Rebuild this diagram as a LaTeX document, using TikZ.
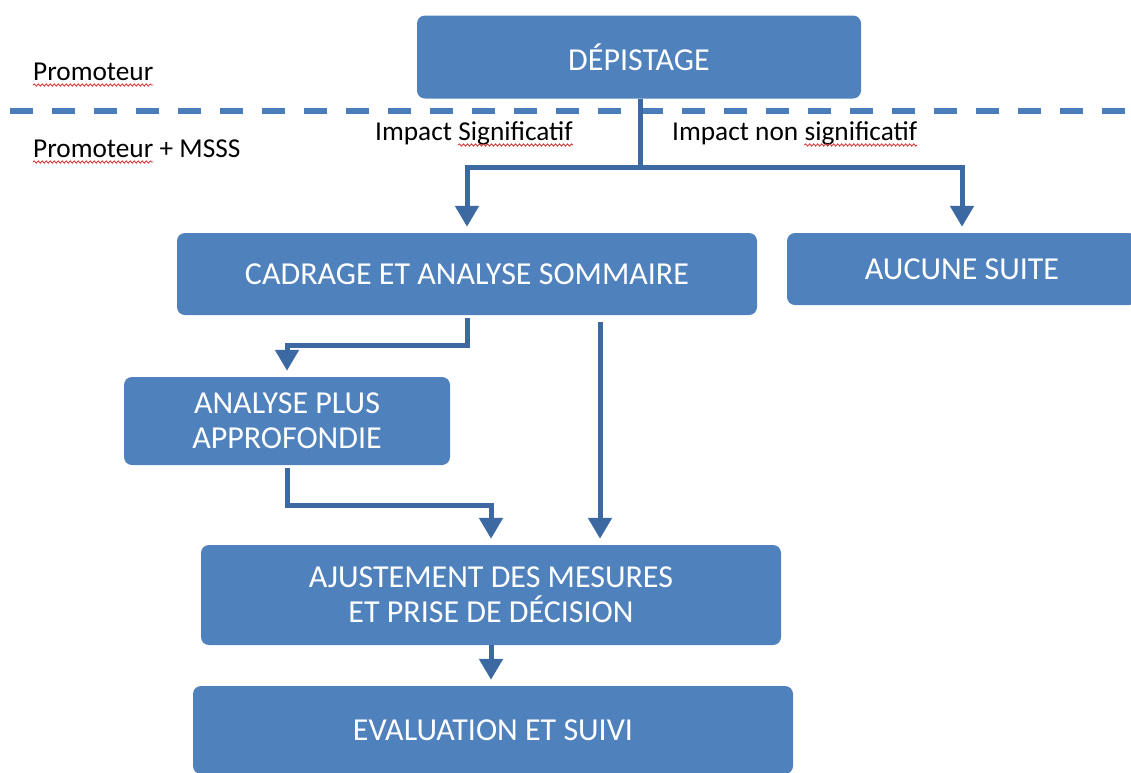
\documentclass[tikz,border=0pt]{standalone}
\usepackage{fontspec}
\setmainfont{Carlito}
\usetikzlibrary{arrows.meta,decorations.pathmorphing,calc}
\definecolor{boxblue}{HTML}{4F81BD}
\definecolor{linkblue}{HTML}{3D69A3}
\definecolor{dashblue}{HTML}{4A7EBB}
\definecolor{spellred}{HTML}{D83B3B}
\newcommand\bxfont{\fontsize{32}{35}\selectfont}
\newcommand\lbfont{\fontsize{27.3}{30}\selectfont}
\begin{document}
\begin{tikzpicture}[x=1pt,y=-1pt,
  box/.style={rectangle, rounded corners=8pt, fill=boxblue, text=white, align=center, font=\bxfont, inner sep=0pt},
  lbl/.style={anchor=base west, inner sep=0pt, font=\lbfont, text=black},
  arr/.style={draw=linkblue, line width=5pt, -{Triangle[width=23pt,length=21pt]}, shorten >=6pt},
  link/.style={draw=linkblue, line width=5pt},
  dashsep/.style={draw=dashblue, line width=6pt, dash pattern=on 23pt off 19pt, dash phase=32pt},
  wavy/.style={draw=spellred, line width=0.9pt, decorate, decoration={snake, amplitude=1.1pt, segment length=4pt}}
]
\useasboundingbox (0,0) rectangle (1131,772);
\fill[white] (0,0) rectangle (1131,772);

% separator
\coordinate (dl) at (0,111);
\coordinate (dr) at (1131,111);
\draw[dashsep] (dl) -- (dr);

% boxes
\node[box, minimum width=444pt, minimum height=83pt] (dep) at (639,57) {DÉPISTAGE};
\node[box, minimum width=580pt, minimum height=82pt] (cad) at (467,274) {CADRAGE ET ANALYSE SOMMAIRE};
\node[box, minimum width=350pt, minimum height=72pt] (auc) at (962,269) {AUCUNE SUITE};
\node[box, minimum width=326pt, minimum height=88pt] (ana) at (287,421) {ANALYSE PLUS\\APPROFONDIE};
\node[box, minimum width=580pt, minimum height=100pt] (adj) at (491,595) {AJUSTEMENT DES MESURES\\ET PRISE DE DÉCISION};
\node[box, minimum width=600pt, minimum height=88pt] (evl) at (493,730) {EVALUATION ET SUIVI};

% labels
\node[lbl] (p1) at (33,80) {Promoteur};
\node[lbl] (p2) at (33,157) {Promoteur};
\node[lbl] (p2b) at ([xshift=6pt]p2.base east) {+ MSSS};
\node[lbl] (i1) at (375,140) {Impact};
\node[lbl] (i1b) at ([xshift=6pt]i1.base east) {Significatif};
\node[lbl] (i2) at (672,140) {Impact non};
\node[lbl] (i2b) at ([xshift=6pt]i2.base east) {significatif};

% spell-check underlines
\draw[wavy] ([yshift=-5pt]p1.base west) -- ([yshift=-5pt]p1.base east);
\draw[wavy] ([yshift=-5pt]p2.base west) -- ([yshift=-5pt]p2.base east);
\draw[wavy] ([yshift=-5pt]i1b.base west) -- ([yshift=-5pt]i1b.base east);
\draw[wavy] ([yshift=-5pt]i2b.base west) -- ([yshift=-5pt]i2b.base east);

% connectors
\coordinate (split) at (640,167);
\coordinate (c600) at (600,0);
\draw[link] (dep.south -| split) -- (split);
\draw[arr] (split) -| (cad.north);
\draw[arr] (split) -| (auc.north);
\draw[arr, shorten <=3pt] (cad.south) -- ++(0,30) -| (ana.north);
\draw[arr, shorten <=7pt] (cad.south -| c600) -- (adj.north -| c600);
\draw[arr, shorten <=3pt] (ana.south) -- ++(0,40) -| (adj.north);
\draw[arr] (adj.south) -- (adj.south |- evl.north);
\end{tikzpicture}
\end{document}
